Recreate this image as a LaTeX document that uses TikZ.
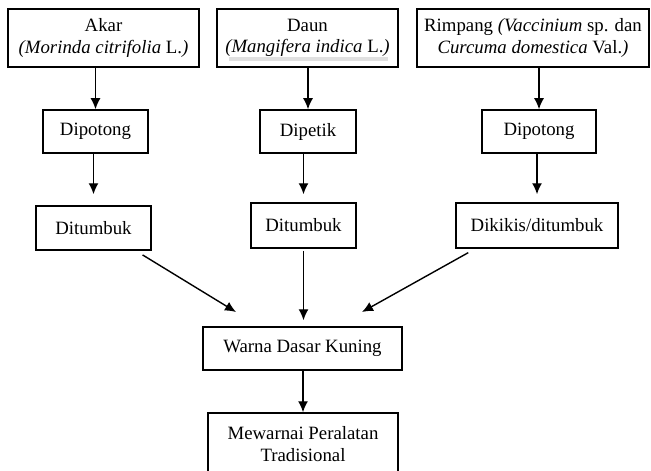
\documentclass[tikz,border=0pt]{standalone}
\usepackage{fontspec}
\setmainfont{Liberation Serif}
\usepackage{tikz}
\usetikzlibrary{arrows.meta,backgrounds}

\begin{document}
\begin{tikzpicture}[
      x=0.5pt, y=-0.5pt,
      box/.style={draw, line width=0.75pt, inner sep=0pt, align=center,
                  font=\fontsize{9.4}{10.6}\selectfont},
      arr/.style={-{Latex[length=5.5pt,width=5pt]}, line width=0.7pt},
      uline/.style={line width=2.3pt, black!12}
    ]
    \useasboundingbox (0,0) rectangle (651,470);

    % bahan
    \node[box, minimum width=95.5pt, minimum height=29pt] (akar) at (103.5,38)
         {Akar\\\textit{(Morinda citrifolia} L.\textit{)}};
    \node[box, minimum width=90.5pt, minimum height=29pt] (daun) at (307.5,38)
         {Daun\\\textit{(Mangifera indica} L.\textit{)}};
    \node[box, minimum width=116pt, minimum height=29pt] (rimp) at (533,38)
         {Rimpang \textit{(Vaccinium} sp. dan\\\textit{Curcuma domestica} Val.\textit{)}};

    % proses
    \node[box, minimum width=52.5pt, minimum height=21.5pt] (dpt1) at (95.5,131.5) {Dipotong};
    \node[box, minimum width=48pt,   minimum height=21.5pt] (dpk)  at (308,131.5)  {Dipetik};
    \node[box, minimum width=57pt,   minimum height=21.5pt] (dpt3) at (539,131.5)  {Dipotong};

    \node[box, minimum width=57.5pt, minimum height=22pt]   (dtb1) at (93.5,228)   {Ditumbuk};
    \node[box, minimum width=52.5pt, minimum height=22.5pt] (dtb2) at (303.5,225.5) {Ditumbuk};
    \node[box, minimum width=81pt,   minimum height=22.5pt] (dkk)  at (537,225.5)  {Dikikis/ditumbuk};

    % hasil
    \node[box, minimum width=99.5pt, minimum height=21.5pt] (wdk) at (302.5,348.5) {Warna Dasar Kuning};
    \node[box, minimum width=95pt,   minimum height=31pt]   (mpt) at (303,444)
         {Mewarnai Peralatan\\Tradisional};

    \coordinate (inL) at (236,312);
    \coordinate (inR) at (362,312);

    \begin{scope}[on background layer]
      \draw[uline] ([shift={(6.5pt,4.3pt)}]daun.south west) -- ([shift={(-5.5pt,4.3pt)}]daun.south east);
    \end{scope}

    \draw[arr] (akar.south -| dpt1) -- (dpt1);
    \draw[arr] (daun.south -| dpk)  -- (dpk);
    \draw[arr] (rimp.south -| dpt3) -- (dpt3);

    \draw[arr, shorten >=5.5pt] (dpt1.south -| dtb1) -- (dtb1);
    \draw[arr, shorten >=4pt]   (dpk.south -| dtb2)  -- (dtb2);
    \draw[arr, shorten >=4pt]   (dpt3.south -| dkk)  -- (dkk);

    \draw[arr, shorten <=4pt] ([xshift=-8pt]dtb1.south east) -- (inL);
    \draw[arr, shorten <=1pt, shorten >=3pt] (dtb2.south) -- (dtb2.south |- wdk.north);
    \draw[arr, shorten <=4pt] ([xshift=10pt]dkk.south west) -- (inR);

    \draw[arr] (wdk.south -| mpt) -- (mpt);
  \end{tikzpicture}
\end{document}
